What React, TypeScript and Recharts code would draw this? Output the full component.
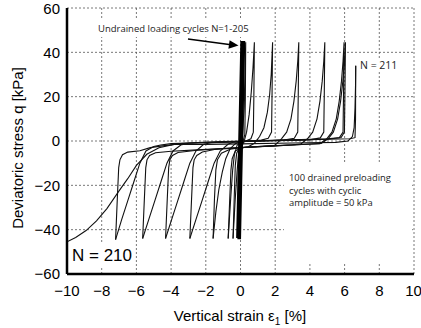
import React from 'react';
import { LineChart, Line, XAxis, YAxis, CartesianGrid } from 'recharts';

const xTicks = [-10, -8, -6, -4, -2, 0, 2, 4, 6, 8, 10];
const yTicks = [-60, -40, -20, 0, 20, 40, 60];

// strain [%], deviatoric stress q [kPa]
const undrained = [[-0.18, -43.8], [0.06, 44.6], [0.2, 44.6], [-0.04, -43.8], [-0.18, -43.8]];

const cycleA = [[-0.1, -44], [-0.05, -25], [0.0, -10], [0.06, -3], [0.13, 3], [0.2, 15], [0.26, 30], [0.3, 44.5], [0.28, 20], [0.25, 3], [0.15, 0], [0.0, -1.5], [-0.1, -5], [-0.2, -14], [-0.31, -27], [-0.43, -44]];

const cycleB = [[-0.43, -44], [-0.36, -25], [-0.3, -11], [-0.22, -5.5], [-0.1, -3.5], [0.05, -2.5], [0.2, -0.5], [0.35, 4], [0.5, 12], [0.62, 22], [0.72, 33], [0.8, 44.5], [0.77, 20], [0.74, 4], [0.6, 1], [0.3, 0], [0.0, -0.5], [-0.2, -2], [-0.35, -6], [-0.45, -13], [-0.55, -24], [-0.63, -34], [-0.71, -44]];

const cycleC = [[-0.71, -44], [-0.62, -26], [-0.55, -13], [-0.48, -8], [-0.3, -4.5], [0.0, -3.2], [0.45, -2.6], [0.8, -1], [1.1, 2], [1.35, 6], [1.55, 13], [1.68, 21], [1.77, 30], [1.85, 44.5], [1.82, 22], [1.79, 4], [1.6, 1.2], [1.2, 0.4], [0.5, 0.0], [0.0, -0.3], [-0.3, -1.2], [-0.6, -3.5], [-0.85, -8], [-1.05, -14], [-1.25, -22], [-1.42, -32], [-1.58, -44]];

const cycleD = [[-1.58, -44], [-1.5, -26], [-1.42, -13], [-1.33, -8.5], [-1.1, -5.5], [-0.6, -3.7], [0.0, -3.0], [1.0, -2.5], [1.96, -2.1], [2.36, 1], [2.66, 4], [2.91, 10], [3.08, 18], [3.21, 27], [3.3, 36], [3.36, 44.5], [3.33, 22], [3.3, 4], [3.1, 1.2], [2.5, 0.4], [1.5, 0.1], [0.5, -0.1], [-0.4, -0.5], [-0.72, -1.5], [-1.17, -4.5], [-1.52, -10], [-1.87, -18.5], [-2.22, -27], [-2.57, -35.5], [-2.92, -44]];

const cycleE = [[-2.92, -44], [-2.82, -26], [-2.74, -12], [-2.67, -8.5], [-2.52, -6.5], [-2.2, -5.0], [-1.5, -3.8], [0, -3.0], [1.5, -2.3], [3.0, -1.7], [3.46, -1.4], [3.86, 1], [4.16, 4], [4.41, 10], [4.58, 18], [4.71, 27], [4.8, 36], [4.86, 44.5], [4.83, 22], [4.8, 4], [4.6, 1.4], [4.0, 0.6], [3.0, 0.3], [1.5, 0.1], [0, -0.3], [-1.0, -0.5], [-1.7, -0.8], [-2.12, -1.5], [-2.57, -4.5], [-2.92, -10], [-3.27, -18.5], [-3.62, -27], [-3.97, -35.5], [-4.32, -44]];

const cycleF = [[-4.32, -44], [-4.22, -26], [-4.14, -12], [-4.07, -8.5], [-3.92, -6.5], [-3.6, -5.2], [-2.5, -4.2], [-1, -3.4], [0.5, -2.8], [2, -2.2], [3.5, -1.6], [4.57, -1.2], [4.97, 1], [5.27, 4], [5.52, 10], [5.69, 18], [5.82, 27], [5.91, 36], [5.97, 44.5], [5.94, 22], [5.91, 4], [5.7, 1.5], [5.0, 0.8], [4, 0.6], [2.5, 0.3], [1, 0], [-0.5, -0.4], [-2, -0.8], [-3.0, -1.0], [-3.44, -1.8], [-3.89, -4.5], [-4.24, -10], [-4.59, -18.5], [-4.94, -27], [-5.29, -35.5], [-5.64, -44]];

const cycleG = [[-5.64, -44], [-5.54, -26], [-5.46, -12], [-5.39, -8.5], [-5.24, -6.5], [-4.9, -5.3], [-4, -4.6], [-2.5, -4], [-1, -3.4], [1, -2.6], [3, -1.8], [4.65, -1.1], [5.05, 1], [5.35, 4], [5.6, 10], [5.77, 18], [5.9, 27], [5.99, 36], [6.05, 44.5], [6.02, 22], [5.99, 4], [5.8, 1.6], [5, 1], [3.5, 0.6], [2, 0.3], [0.5, 0], [-1, -0.4], [-2.5, -0.8], [-4, -1.2], [-4.6, -1.8], [-5.0, -2.5], [-5.45, -4.5], [-5.8, -10], [-6.15, -18.5], [-6.5, -27], [-6.85, -35.5], [-7.2, -44.5]];

const cycle211 = [[-7.2, -44.5], [-7.1, -26], [-7.02, -12], [-6.95, -8.5], [-6.8, -6.2], [-6.5, -5.0], [-5.8, -4.4], [-5.2, -3.0], [-4.5, -2.2], [-3.7, -1.5], [-2, -1.5], [0, -1.3], [3, -0.9], [5.5, -0.6], [6.2, 0], [6.45, 2], [6.55, 6], [6.6, 15], [6.63, 25], [6.64, 34]];

const cycle210 = [[6.64, 34], [6.63, 10], [6.6, 1.5], [6.3, 1.0], [5, 0.8], [3, 0.5], [1, 0.1], [-1, -0.3], [-2.5, -0.7], [-3.7, -1.3], [-4.7, -3], [-5.4, -6], [-6.0, -11], [-6.5, -17], [-7.0, -22.5], [-7.7, -30.5], [-8.3, -36], [-8.9, -40.4], [-9.5, -43.5], [-10, -45.5]];

const drainedCycles = [cycleA, cycleB, cycleC, cycleD, cycleE, cycleF, cycleG, cycle211, cycle210];

const toPts = (a: number[][]) => a.map(([x, q]) => ({ x, q }));
const fmt = (v: number) => (v < 0 ? '\u2212' + Math.abs(v) : String(v));

const axisFont = { fill: '#000', fontSize: 15, fontFamily: 'Liberation Sans, Arial, sans-serif' };
const noteFont = 'Open Sans, DejaVu Sans, sans-serif';

export default function App() {
  return (
    <div style={{ position: 'absolute', left: 0, top: 0, width: 421, height: 328, background: '#fff', overflow: 'hidden' }}>
      <LineChart width={421} height={328} margin={{ top: 8, right: 7, bottom: 0, left: 0 }}>
        <CartesianGrid stroke="#555" strokeDasharray="2 2" strokeWidth={0.8} />
        <XAxis
          xAxisId={0}
          type="number"
          dataKey="x"
          domain={[-10, 10]}
          ticks={xTicks}
          tickFormatter={fmt}
          height={54}
          axisLine={{ stroke: '#000', strokeWidth: 2.5 }}
          tickLine={false}
          tick={axisFont}
          tickMargin={5}
          allowDataOverflow
        />
        <YAxis
          yAxisId={0}
          type="number"
          domain={[-60, 60]}
          ticks={yTicks}
          tickFormatter={fmt}
          width={67}
          axisLine={{ stroke: '#000', strokeWidth: 2.5 }}
          tickLine={false}
          tick={axisFont}
          tickMargin={1}
          allowDataOverflow
        />
        <XAxis
          xAxisId="top"
          orientation="top"
          type="number"
          domain={[-10, 10]}
          ticks={xTicks}
          height={0}
          axisLine={{ stroke: '#000', strokeWidth: 2 }}
          tickSize={-4}
          tickLine={{ stroke: '#000' }}
          tickFormatter={() => ''}
        />
        <YAxis
          yAxisId="right"
          orientation="right"
          type="number"
          domain={[-60, 60]}
          ticks={yTicks}
          width={0}
          axisLine={{ stroke: '#000', strokeWidth: 1.2 }}
          tickSize={-4}
          tickLine={{ stroke: '#000' }}
          tickFormatter={() => ''}
        />
        {drainedCycles.map((c, i) => (
          <Line
            key={i}
            data={toPts(c)}
            dataKey="q"
            type="linear"
            stroke="#111"
            strokeWidth={1.1}
            dot={false}
            activeDot={false}
            isAnimationActive={false}
          />
        ))}
        <Line
          data={toPts(undrained)}
          dataKey="q"
          type="linear"
          stroke="#000"
          strokeWidth={2.5}
          dot={false}
          activeDot={false}
          isAnimationActive={false}
        />
      </LineChart>
      <svg width={421} height={328} style={{ position: 'absolute', left: 0, top: 0, pointerEvents: 'none' }}>
        <rect x={95} y={19} width={155} height={18} fill="#fff" />
        <rect x={284} y={163} width={128} height={101} fill="#fff" />
        <rect x={357} y={58} width={40} height={14} fill="#fff" />
        <rect x={70} y={243} width={64} height={23} fill="#fff" />
        <text x={98} y={31.5} fontSize={9.5} fontFamily={noteFont} fill="#222">Undrained loading cycles N=1-205</text>
        <line x1={188} y1={39} x2={231} y2={44.7} stroke="#000" strokeWidth={1.4} />
        <polygon points="238.5,45.6 229.6,40.2 228.4,48.8" fill="#000" />
        <text x={360} y={69} fontSize={10.5} fontFamily={noteFont} fill="#222">N = 211</text>
        <text fontSize={9.4} fontFamily={noteFont} fill="#222">
          <tspan x={289} y={181}>100 drained preloading</tspan>
          <tspan x={289} y={193.5}>cycles with cyclic</tspan>
          <tspan x={289} y={206}>amplitude = 50 kPa</tspan>
        </text>
        <text x={72} y={261} fontSize={17} fontFamily="Liberation Sans, Arial, sans-serif" fill="#000">N = 210</text>
        <text x={22.5} y={148} fontSize={15} fontFamily="Liberation Sans, Arial, sans-serif" fill="#000" textAnchor="middle" transform="rotate(-90 22.5 148)">Deviatoric stress q [kPa]</text>
        <text x={240} y={321} fontSize={15} fontFamily="Liberation Sans, Arial, sans-serif" fill="#000" textAnchor="middle">
          Vertical strain ε<tspan fontSize={10} dy={4}>1</tspan><tspan dy={-4}> [%]</tspan>
        </text>
      </svg>
    </div>
  );
}
